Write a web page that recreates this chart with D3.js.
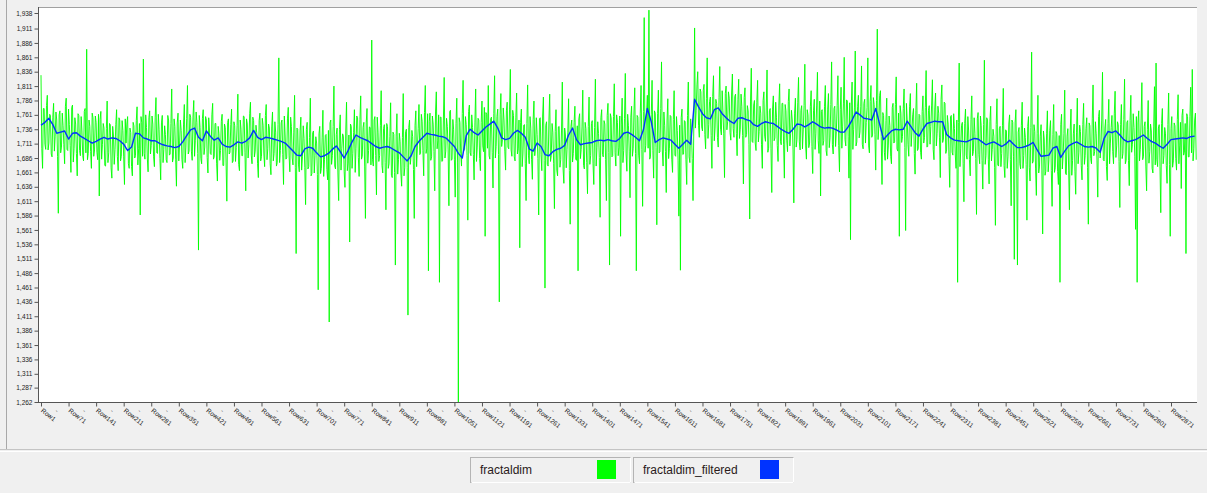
<!DOCTYPE html>
<html>
<head>
<meta charset="utf-8">
<script src="https://cdn.jsdelivr.net/npm/d3@7"></script>
<style>
  body { margin: 0; background: #f0f0f0; }
  svg { display: block; }
</style>
</head>
<body>
<svg id="chart" width="1207" height="493"></svg>
<script>
// Row spacing of each stored series and total row count
const rawRowStep = 2;
const filteredRowStep = 10;
const totalRows = 2937;

// fractaldim, one value every 2 rows (Row1, Row3, Row5, ...)
const fractaldim = [
  1.830,1.703,1.668,1.772,1.772,1.710,1.701,1.777,1.795,1.700,1.712,1.762,1.760,1.693,1.688,1.757,1.781,1.698,1.724,1.766,1.752,1.689,1.590,1.761,1.768,1.695,1.705,1.764,1.742,1.709,1.676,1.776,1.790,1.701,1.699,1.771,1.744,1.708,1.661,1.774,
  1.778,1.679,1.702,1.756,1.745,1.694,1.655,1.763,1.760,1.699,1.690,1.758,1.733,1.690,1.681,1.767,1.772,1.695,1.875,1.683,1.694,1.752,1.741,1.697,1.668,1.764,1.756,1.689,1.700,1.759,1.748,1.696,1.683,1.762,1.620,1.753,1.767,1.684,1.709,1.746,
  1.738,1.673,1.672,1.737,1.785,1.678,1.695,1.746,1.744,1.669,1.651,1.741,1.726,1.675,1.701,1.744,1.770,1.689,1.664,1.756,1.752,1.681,1.689,1.751,1.734,1.688,1.640,1.754,1.712,1.745,1.758,1.676,1.668,1.738,1.730,1.671,1.655,1.748,1.742,1.686,
  1.690,1.751,1.775,1.674,1.702,1.746,1.587,1.758,1.748,1.689,1.858,1.694,1.684,1.761,1.739,1.686,1.662,1.756,1.768,1.693,1.708,1.759,1.745,1.688,1.671,1.757,1.791,1.695,1.694,1.762,1.735,1.685,1.648,1.747,1.760,1.678,1.701,1.742,1.727,1.683,
  1.678,1.760,1.752,1.691,1.693,1.746,1.806,1.679,1.686,1.754,1.741,1.684,1.637,1.747,1.764,1.681,1.712,1.752,1.734,1.683,1.668,1.745,1.779,1.678,1.705,1.755,1.812,1.693,1.698,1.762,1.757,1.698,1.682,1.757,1.786,1.689,1.717,1.766,1.748,1.694,
  1.526,1.760,1.739,1.685,1.676,1.755,1.770,1.692,1.705,1.758,1.752,1.687,1.660,1.756,1.733,1.694,1.692,1.761,1.781,1.684,1.688,1.746,1.746,1.677,1.646,1.741,1.728,1.682,1.699,1.750,1.762,1.673,1.673,1.745,1.739,1.679,1.611,1.748,1.754,1.693,
  1.696,1.744,1.771,1.678,1.681,1.749,1.742,1.680,1.704,1.742,1.797,1.675,1.664,1.752,1.736,1.690,1.690,1.759,1.758,1.695,1.629,1.754,1.745,1.686,1.709,1.763,1.783,1.691,1.676,1.757,1.751,1.688,1.698,1.743,1.730,1.676,1.652,1.751,1.764,1.681,
  1.689,1.755,1.743,1.693,1.671,1.760,1.779,1.683,1.702,1.745,1.738,1.676,1.657,1.740,1.766,1.681,1.694,1.749,1.731,1.672,1.678,1.744,1.860,1.678,1.699,1.747,1.752,1.692,1.640,1.759,1.726,1.684,1.686,1.754,1.774,1.691,1.662,1.757,1.741,1.686,
  1.674,1.731,1.795,1.669,1.520,1.738,1.736,1.674,1.662,1.733,1.757,1.665,1.688,1.742,1.720,1.670,1.605,1.736,1.748,1.667,1.671,1.722,1.790,1.655,1.659,1.730,1.733,1.660,1.690,1.723,1.712,1.657,1.457,1.728,1.741,1.659,1.668,1.721,1.769,1.654,
  1.683,1.725,1.727,1.666,1.648,1.734,1.401,1.747,1.752,1.675,1.690,1.741,1.811,1.672,1.667,1.727,1.738,1.660,1.612,1.735,1.761,1.665,1.702,1.728,1.724,1.662,1.635,1.733,1.783,1.664,1.677,1.726,1.540,1.745,1.741,1.668,1.694,1.730,1.770,1.661,
  1.703,1.759,1.756,1.687,1.654,1.753,1.794,1.684,1.689,1.739,1.748,1.672,1.581,1.747,1.772,1.677,1.699,1.740,1.739,1.674,1.891,1.683,1.672,1.752,1.758,1.690,1.622,1.757,1.731,1.680,1.690,1.742,1.803,1.673,1.660,1.737,1.744,1.678,1.596,1.746,
  1.741,1.668,1.676,1.723,1.782,1.656,1.652,1.731,1.727,1.661,1.500,1.724,1.763,1.658,1.683,1.729,1.715,1.660,1.637,1.722,1.798,1.655,1.669,1.732,1.736,1.670,1.413,1.739,1.752,1.675,1.690,1.734,1.723,1.666,1.581,1.743,1.768,1.671,1.707,1.737,
  1.779,1.692,1.694,1.762,1.750,1.699,1.655,1.765,1.812,1.694,1.702,1.763,1.490,1.749,1.764,1.682,1.688,1.759,1.745,1.697,1.629,1.766,1.801,1.702,1.716,1.761,1.470,1.757,1.757,1.680,1.681,1.752,1.826,1.686,1.698,1.755,1.741,1.700,1.603,1.767,
  1.769,1.682,1.684,1.753,1.735,1.684,1.618,1.746,1.790,1.679,1.262,1.756,1.748,1.694,1.672,1.763,1.821,1.699,1.701,1.758,1.744,1.690,1.578,1.767,1.778,1.695,1.690,1.761,1.739,1.692,1.648,1.747,1.806,1.680,1.705,1.755,1.752,1.685,1.664,1.748,
  1.785,1.707,1.697,1.774,1.550,1.765,1.762,1.703,1.812,1.690,1.684,1.754,1.757,1.695,1.634,1.763,1.829,1.686,1.706,1.758,1.771,1.692,1.436,1.761,1.798,1.706,1.718,1.773,1.752,1.698,1.665,1.768,1.783,1.705,1.702,1.771,1.840,1.700,1.689,1.769,
  1.760,1.688,1.681,1.757,1.799,1.693,1.702,1.752,1.530,1.748,1.771,1.671,1.693,1.743,1.744,1.677,1.612,1.746,1.813,1.691,1.676,1.758,1.738,1.683,1.649,1.753,1.785,1.690,1.705,1.756,1.727,1.685,1.587,1.754,1.756,1.692,1.664,1.759,1.792,1.682,
  1.460,1.743,1.749,1.675,1.672,1.752,1.797,1.680,1.690,1.746,1.731,1.677,1.598,1.732,1.770,1.665,1.655,1.740,1.741,1.670,1.683,1.733,1.818,1.667,1.642,1.738,1.726,1.669,1.701,1.731,1.789,1.664,1.571,1.741,1.752,1.679,1.694,1.748,1.776,1.684,
  1.682,1.742,1.490,1.754,1.763,1.685,1.701,1.740,1.804,1.673,1.667,1.748,1.737,1.678,1.624,1.741,1.792,1.675,1.690,1.746,1.751,1.677,1.640,1.739,1.823,1.672,1.704,1.749,1.729,1.687,1.583,1.756,1.770,1.692,1.688,1.751,1.745,1.683,1.612,1.760,
  1.781,1.696,1.500,1.763,1.756,1.688,1.690,1.758,1.815,1.695,1.672,1.761,1.748,1.690,1.704,1.759,1.550,1.745,1.790,1.678,1.699,1.755,1.833,1.693,1.663,1.762,1.742,1.698,1.617,1.757,1.776,1.689,1.702,1.766,1.808,1.694,1.490,1.760,1.757,1.691,
  1.676,1.764,1.812,1.701,1.602,1.767,1.930,1.696,1.708,1.765,1.795,1.703,1.943,1.684,1.688,1.761,1.821,1.699,1.651,1.768,1.764,1.704,1.570,1.763,1.804,1.695,1.697,1.772,1.853,1.700,1.672,1.766,1.742,1.697,1.626,1.752,1.789,1.685,1.702,1.760,
  1.758,1.684,1.661,1.753,1.803,1.691,1.689,1.758,1.734,1.681,1.585,1.743,1.491,1.756,1.771,1.692,1.693,1.751,1.749,1.683,1.640,1.760,1.818,1.688,1.678,1.754,1.731,1.685,1.612,1.740,1.912,1.738,1.769,1.813,1.836,1.743,1.722,1.806,1.801,1.740,
  1.733,1.804,1.814,1.727,1.702,1.789,1.860,1.720,1.744,1.784,1.792,1.725,1.668,1.793,1.829,1.716,1.738,1.788,1.781,1.722,1.705,1.791,1.845,1.736,1.726,1.803,1.768,1.728,1.652,1.798,1.811,1.735,1.749,1.801,1.790,1.730,1.717,1.799,1.832,1.737,
  1.722,1.793,1.797,1.729,1.690,1.788,1.823,1.720,1.736,1.797,1.775,1.725,1.641,1.791,1.808,1.722,1.727,1.777,1.768,1.710,1.580,1.785,1.842,1.715,1.713,1.778,1.786,1.712,1.699,1.783,1.821,1.714,1.732,1.776,1.764,1.709,1.668,1.786,1.801,1.724,
  1.715,1.773,1.839,1.696,1.703,1.768,1.772,1.702,1.626,1.771,1.794,1.716,1.721,1.783,1.757,1.708,1.680,1.778,1.815,1.715,1.709,1.781,1.781,1.710,1.651,1.779,1.768,1.717,1.697,1.784,1.806,1.707,1.729,1.769,1.752,1.700,1.608,1.764,1.790,1.705,
  1.718,1.783,1.826,1.714,1.700,1.769,1.777,1.702,1.735,1.777,1.849,1.707,1.684,1.770,1.761,1.704,1.712,1.775,1.803,1.706,1.659,1.768,1.788,1.701,1.728,1.778,1.835,1.716,1.694,1.785,1.620,1.767,1.770,1.708,1.716,1.776,1.812,1.699,1.690,1.771,
  1.798,1.704,1.721,1.779,1.853,1.709,1.693,1.772,1.776,1.706,1.732,1.777,1.829,1.708,1.662,1.770,1.809,1.703,1.740,1.780,1.861,1.718,1.707,1.787,1.785,1.723,1.651,1.782,1.544,1.778,1.818,1.701,1.736,1.773,1.872,1.707,1.714,1.776,1.795,1.721,
  1.731,1.776,1.846,1.710,1.702,1.781,1.788,1.712,1.748,1.774,1.860,1.707,1.695,1.784,1.812,1.722,1.726,1.791,1.779,1.727,1.665,1.786,1.910,1.718,1.741,1.795,1.803,1.723,1.640,1.765,1.760,1.696,1.682,1.751,1.790,1.684,1.707,1.759,1.742,1.689,
  1.676,1.774,1.781,1.712,1.714,1.779,1.827,1.702,1.698,1.764,1.550,1.777,1.764,1.713,1.723,1.772,1.806,1.704,1.560,1.781,1.752,1.709,1.689,1.775,1.798,1.706,1.731,1.761,1.772,1.694,1.658,1.769,1.816,1.699,1.702,1.762,1.760,1.696,1.684,1.767,
  1.794,1.712,1.722,1.774,1.838,1.705,1.706,1.769,1.777,1.710,1.741,1.778,1.822,1.701,1.683,1.773,1.799,1.707,1.729,1.776,1.764,1.721,1.652,1.788,1.813,1.713,1.719,1.783,1.781,1.694,1.700,1.760,1.745,1.689,1.635,1.758,1.760,1.696,1.691,1.763,
  1.737,1.693,1.668,1.752,1.470,1.748,1.851,1.671,1.702,1.743,1.748,1.677,1.610,1.746,1.771,1.691,1.684,1.758,1.733,1.683,1.655,1.753,1.794,1.690,1.697,1.756,1.729,1.685,1.588,1.754,1.765,1.692,1.676,1.759,1.742,1.682,1.632,1.744,1.856,1.675,
  1.690,1.756,1.752,1.684,1.641,1.750,1.776,1.681,1.701,1.736,1.724,1.669,1.569,1.744,1.789,1.674,1.672,1.737,1.741,1.671,1.694,1.742,1.807,1.673,1.652,1.735,1.733,1.668,1.688,1.745,1.761,1.683,1.603,1.752,1.748,1.688,1.510,1.747,1.770,1.679,
  1.500,1.731,1.739,1.676,1.667,1.743,1.783,1.668,1.690,1.738,1.722,1.675,1.578,1.741,1.758,1.670,1.646,1.739,1.870,1.677,1.680,1.744,1.732,1.667,1.621,1.729,1.795,1.660,1.672,1.724,1.744,1.665,1.554,1.733,1.719,1.656,1.663,1.728,1.768,1.662,
  1.684,1.734,1.751,1.664,1.602,1.727,1.779,1.661,1.669,1.732,1.728,1.663,1.640,1.725,1.470,1.744,1.762,1.667,1.690,1.729,1.804,1.660,1.657,1.724,1.737,1.665,1.596,1.733,1.771,1.656,1.682,1.728,1.745,1.662,1.623,1.731,1.790,1.676,1.695,1.743,
  1.732,1.673,1.648,1.744,1.781,1.675,1.690,1.737,1.756,1.670,1.571,1.747,1.742,1.685,1.676,1.754,1.813,1.690,1.697,1.749,1.728,1.681,1.618,1.758,1.769,1.686,1.704,1.752,1.835,1.683,1.681,1.738,1.753,1.671,1.647,1.746,1.788,1.676,1.712,1.739,
  1.760,1.697,1.676,1.764,1.802,1.687,1.707,1.749,1.744,1.680,1.600,1.744,1.779,1.685,1.694,1.753,1.823,1.676,1.682,1.748,1.751,1.682,1.638,1.751,1.795,1.696,1.710,1.763,1.739,1.688,1.562,1.758,1.470,1.747,1.768,1.681,1.701,1.752,1.817,1.683,
  1.688,1.741,1.749,1.672,1.629,1.736,1.786,1.677,1.697,1.745,1.733,1.668,1.660,1.740,1.810,1.674,1.851,1.683,1.671,1.738,1.744,1.671,1.591,1.746,1.772,1.676,1.690,1.739,1.728,1.673,1.642,1.744,1.799,1.675,1.550,1.737,1.758,1.670,1.681,1.747,
  1.742,1.685,1.665,1.753,1.796,1.676,1.707,1.748,1.633,1.760,1.771,1.691,1.696,1.746,1.520,1.763,1.758,1.688,1.688,1.758,1.809,1.695,1.840,1.681,1.702,1.752,1.764,1.683
];

// fractaldim_filtered, one value every 10 rows (Row1, Row11, Row21, ...)
const fractaldimFiltered = [
  1.743,1.748,1.755,1.744,1.729,1.731,1.733,1.719,1.729,1.730,1.724,1.720,1.716,1.712,1.715,1.719,1.722,1.719,1.721,1.720,
  1.716,1.710,1.699,1.705,1.729,1.728,1.721,1.719,1.716,1.716,1.712,1.709,1.707,1.706,1.704,1.706,1.714,1.725,1.735,1.738,
  1.722,1.716,1.733,1.724,1.717,1.721,1.710,1.706,1.705,1.709,1.714,1.712,1.715,1.721,1.734,1.722,1.718,1.722,1.721,1.719,
  1.717,1.715,1.712,1.705,1.698,1.691,1.690,1.702,1.705,1.703,1.695,1.688,1.690,1.694,1.701,1.707,1.697,1.686,1.699,1.714,
  1.726,1.722,1.719,1.716,1.711,1.706,1.703,1.705,1.706,1.703,1.699,1.695,1.688,1.681,1.690,1.706,1.715,1.722,1.729,1.727,
  1.726,1.724,1.723,1.720,1.713,1.706,1.694,1.686,1.725,1.736,1.730,1.726,1.733,1.740,1.745,1.750,1.738,1.721,1.718,1.720,
  1.729,1.734,1.729,1.722,1.702,1.698,1.712,1.706,1.692,1.690,1.697,1.701,1.703,1.708,1.726,1.738,1.718,1.709,1.711,1.712,
  1.713,1.716,1.717,1.716,1.718,1.716,1.715,1.720,1.729,1.731,1.727,1.722,1.716,1.735,1.772,1.749,1.713,1.718,1.721,1.719,
  1.717,1.710,1.703,1.710,1.717,1.710,1.788,1.775,1.763,1.756,1.754,1.770,1.773,1.763,1.756,1.750,1.746,1.755,1.756,1.753,
  1.751,1.744,1.741,1.746,1.749,1.747,1.746,1.741,1.736,1.732,1.729,1.736,1.745,1.744,1.740,1.744,1.749,1.745,1.740,1.738,
  1.739,1.738,1.735,1.731,1.731,1.740,1.752,1.766,1.761,1.755,1.754,1.752,1.772,1.745,1.718,1.726,1.733,1.736,1.735,1.736,
  1.750,1.740,1.730,1.724,1.736,1.746,1.748,1.750,1.749,1.749,1.727,1.721,1.717,1.716,1.715,1.714,1.717,1.720,1.719,1.714,
  1.709,1.712,1.714,1.710,1.706,1.710,1.717,1.710,1.704,1.704,1.706,1.709,1.713,1.700,1.689,1.690,1.691,1.703,1.706,1.687,
  1.698,1.707,1.711,1.714,1.710,1.706,1.705,1.706,1.703,1.696,1.720,1.732,1.730,1.733,1.726,1.718,1.714,1.716,1.718,1.722,
  1.726,1.720,1.715,1.712,1.707,1.703,1.710,1.718,1.719,1.720,1.721,1.720,1.723,1.724
];

// Axis labels
const yTickLabels = [
  "1,938","1,911","1,886","1,861","1,836","1,811","1,786","1,761","1,736","1,711","1,686","1,661","1,636","1,611",
  "1,586","1,561","1,536","1,511","1,486","1,461","1,436","1,411","1,386","1,361","1,336","1,311","1,287","1,262"
];
const xTickLabels = [
  "Row1","Row71","Row141","Row211","Row281","Row351","Row421","Row491","Row561","Row631","Row701","Row771",
  "Row841","Row911","Row981","Row1051","Row1121","Row1191","Row1261","Row1331","Row1401","Row1471","Row1541",
  "Row1611","Row1681","Row1751","Row1821","Row1891","Row1961","Row2031","Row2101","Row2171","Row2241","Row2311",
  "Row2381","Row2451","Row2521","Row2591","Row2661","Row2731","Row2801","Row2871"
];
const seriesNames = ["fractaldim", "fractaldim_filtered"];
const seriesColors = ["#00ff00", "#0033ff"];

const svg = d3.select("#chart");
const plot = { left: 38, right: 1197, top: 7, bottom: 403 };

const x = d3.scaleLinear().domain([1, totalRows]).range([41, plot.right]);
const y = d3.scaleLinear().domain([1.262, 1.9467]).range([402, 8]);

// window frame
svg.append("rect").attr("width", 1207).attr("height", 493).attr("fill", "#f0f0f0");
svg.append("line").attr("x1", 6.5).attr("x2", 6.5).attr("y1", 0).attr("y2", 449)
  .attr("stroke", "#a8a8a8");

// plot background
svg.append("rect")
  .attr("x", plot.left).attr("y", plot.top)
  .attr("width", plot.right - plot.left).attr("height", plot.bottom - plot.top)
  .attr("fill", "#ffffff");
svg.append("line").attr("x1", plot.left).attr("x2", plot.right)
  .attr("y1", plot.top + 0.5).attr("y2", plot.top + 0.5).attr("stroke", "#a0a0a0");

svg.append("clipPath").attr("id", "plotClip").append("rect")
  .attr("x", plot.left + 1).attr("y", plot.top + 1)
  .attr("width", plot.right - plot.left - 1).attr("height", plot.bottom - plot.top - 1);

const rawPoints = fractaldim.map((v, i) => ({ row: 1 + i * rawRowStep, v }));
const filteredPoints = fractaldimFiltered.map((v, i) => ({ row: 1 + i * filteredRowStep, v }));
const line = d3.line().x(d => x(d.row)).y(d => y(d.v));

const lines = svg.append("g").attr("clip-path", "url(#plotClip)");
lines.append("path").datum(rawPoints)
  .attr("d", line).attr("fill", "none")
  .attr("stroke", seriesColors[0]).attr("stroke-width", 0.9).attr("stroke-linejoin", "round");
lines.append("path").datum(filteredPoints)
  .attr("d", line).attr("fill", "none")
  .attr("stroke", seriesColors[1]).attr("stroke-width", 1.4).attr("stroke-linejoin", "round");

// y axis
const yTicks = yTickLabels.map(s => +s.replace(",", "."));
const yAxis = d3.axisLeft(y).tickValues(yTicks).tickSize(4).tickPadding(2)
  .tickFormat((d, i) => yTickLabels[i]);
const gy = svg.append("g").attr("transform", `translate(${plot.left + 0.5},0)`).call(yAxis);
gy.select(".domain").attr("d", `M0,${plot.top}V${plot.bottom}`).attr("stroke", "#555");
gy.selectAll(".tick line").attr("stroke", "#555");
gy.selectAll("text").attr("font-family", "Liberation Sans, Arial, sans-serif")
  .attr("font-size", 6.5).attr("fill", "#222");

// x axis with row labels
const xTicks = xTickLabels.map(s => +s.slice(3));
const xAxis = d3.axisBottom(x).tickValues(xTicks).tickSize(4).tickFormat((d, i) => xTickLabels[i]);
const gx = svg.append("g").attr("transform", `translate(0,${plot.bottom - 0.5})`).call(xAxis);
gx.select(".domain").attr("d", `M${plot.left},0H${plot.right}`).attr("stroke", "#555");
gx.selectAll(".tick line").attr("stroke", "#555");
gx.selectAll("text")
  .attr("font-family", "Liberation Sans, Arial, sans-serif").attr("font-size", 6.5)
  .attr("fill", "#222").attr("text-anchor", "start")
  .attr("dy", null).attr("y", 0)
  .attr("transform", "translate(-1,9) rotate(38)");

// intermediate row markers between labelled ticks
const midTicks = xTicks.map(r => r + 35);
const xMinor = d3.axisBottom(x).tickValues(midTicks).tickSize(0).tickFormat(() => "-");
const gm = svg.append("g").attr("transform", `translate(0,${plot.bottom - 0.5})`).call(xMinor);
gm.select(".domain").remove();
gm.selectAll("text")
  .attr("font-family", "Liberation Sans, Arial, sans-serif").attr("font-size", 7)
  .attr("fill", "#777").attr("dy", null).attr("y", 0)
  .attr("transform", "translate(0,10) rotate(50)");

// separator above legend
svg.append("line").attr("x1", 0).attr("x2", 1207).attr("y1", 449.5).attr("y2", 449.5).attr("stroke", "#c4c4c4");
svg.append("line").attr("x1", 0).attr("x2", 1207).attr("y1", 451.5).attr("y2", 451.5).attr("stroke", "#ffffff");

// legend
const legendBoxes = [
  { x: 470, swatch: 597 },
  { x: 633, swatch: 760 }
];
const legend = svg.append("g").selectAll("g").data(seriesNames).join("g");
legend.append("rect")
  .attr("x", (d, i) => legendBoxes[i].x + 0.5).attr("y", 457.5)
  .attr("width", 160).attr("height", 25)
  .attr("fill", "#f0f0f0").attr("stroke", "#b4b4b4");
legend.append("path")
  .attr("d", (d, i) => `M${legendBoxes[i].x + 1.5},482.5H${legendBoxes[i].x + 160.5}V457.5`)
  .attr("fill", "none").attr("stroke", "#ffffff");
legend.append("text")
  .attr("x", (d, i) => legendBoxes[i].x + 10).attr("y", 474)
  .attr("font-family", "Liberation Sans, Arial, sans-serif").attr("font-size", 12)
  .attr("fill", "#2a1a1a").text(d => d);
legend.append("rect")
  .attr("x", (d, i) => legendBoxes[i].swatch).attr("y", 460)
  .attr("width", 19).attr("height", 19)
  .attr("fill", (d, i) => seriesColors[i]);
</script>
</body>
</html>
